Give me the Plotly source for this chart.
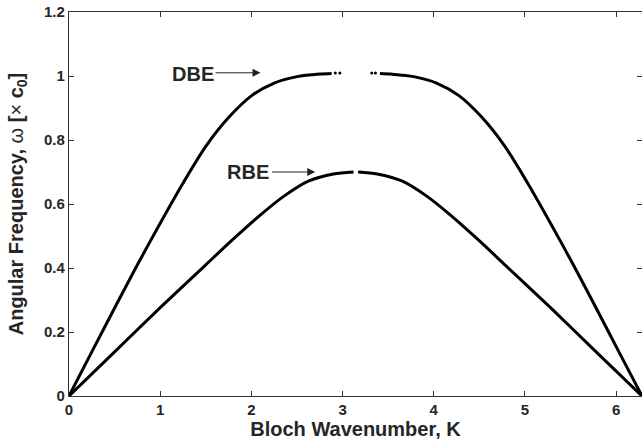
import plotly.graph_objects as go

# Upper band (DBE), left branch, right branch, and sparse dots near the flat top
dbe_left_k = [0.0, 0.25, 0.5, 0.75, 1.0, 1.25, 1.5, 1.75, 2.0, 2.25, 2.5, 2.75, 2.88]
dbe_left_w = [0.0, 0.138, 0.275, 0.41, 0.54, 0.665, 0.78, 0.87, 0.938, 0.978, 0.998, 1.006, 1.008]
dbe_right_k = [3.41, 3.53, 3.78, 4.03, 4.28, 4.53, 4.78, 5.03, 5.28, 5.53, 5.78, 6.03, 6.2832]
dbe_right_w = [1.008, 1.006, 0.998, 0.978, 0.938, 0.87, 0.78, 0.665, 0.54, 0.41, 0.275, 0.138, 0.0]
dbe_dots_k = [2.92, 2.97, 3.32, 3.36]
dbe_dots_w = [1.009, 1.009, 1.009, 1.009]

# Lower band (RBE)
rbe_left_k = [0.0, 0.5, 1.0, 1.5, 1.8, 2.1, 2.35, 2.63, 2.9, 3.12]
rbe_left_w = [0.0, 0.138, 0.276, 0.41, 0.49, 0.566, 0.623, 0.672, 0.694, 0.700]
rbe_right_k = [3.17, 3.38, 3.65, 3.93, 4.18, 4.48, 4.78, 5.28, 5.78, 6.2832]
rbe_right_w = [0.700, 0.694, 0.672, 0.623, 0.566, 0.49, 0.41, 0.276, 0.138, 0.0]

x_ticks = [0, 1, 2, 3, 4, 5, 6]
y_ticks = [0, 0.2, 0.4, 0.6, 0.8, 1.0, 1.2]
y_tick_text = ["0", "0.2", "0.4", "0.6", "0.8", "1", "1.2"]

fig = go.Figure()
line = dict(color="black", width=3, shape="spline", smoothing=0.8)
for kx, wy in [(dbe_left_k, dbe_left_w), (dbe_right_k, dbe_right_w),
               (rbe_left_k, rbe_left_w), (rbe_right_k, rbe_right_w)]:
    fig.add_trace(go.Scatter(x=kx, y=wy, mode="lines", line=line, showlegend=False,
                             hoverinfo="skip"))
fig.add_trace(go.Scatter(x=dbe_dots_k, y=dbe_dots_w, mode="markers",
                         marker=dict(color="black", size=3), showlegend=False))

tickfont = dict(family="Liberation Sans", size=15, color="#262626", weight="bold")
axis_common = dict(
    showline=True, linecolor="#333333", linewidth=1.2, mirror="ticks",
    ticks="inside", ticklen=5, tickcolor="#333333", tickwidth=1,
    showgrid=False, zeroline=False, tickfont=tickfont,
)
fig.update_xaxes(range=[0, 6.2832], tickvals=x_ticks, **axis_common,
                 title=dict(text="<b>Bloch Wavenumber, K</b>",
                            font=dict(family="Liberation Sans", size=20, color="#262626"),
                            standoff=1))
fig.update_yaxes(range=[0, 1.2], tickvals=y_ticks, ticktext=y_tick_text, **axis_common,
                 title=dict(text="<b>Angular Frequency, </b>ω<b> [</b>×<b> c<sub>0</sub>]</b>",
                            font=dict(family="Liberation Sans", size=20, color="#262626"),
                            standoff=15))

annfont = dict(family="Liberation Sans", size=20, color="#262626", weight="bold")
fig.add_annotation(x=1.36, y=1.006, text="DBE", showarrow=False, font=annfont)
fig.add_annotation(x=2.10, y=1.01, ax=1.59, ay=1.01, axref="x", ayref="y",
                   text="", showarrow=True, arrowhead=2, arrowsize=1.6, arrowwidth=1,
                   arrowcolor="#222222")
fig.add_annotation(x=1.96, y=0.70, text="RBE", showarrow=False, font=annfont)
fig.add_annotation(x=2.70, y=0.70, ax=2.21, ay=0.70, axref="x", ayref="y",
                   text="", showarrow=True, arrowhead=2, arrowsize=1.6, arrowwidth=1,
                   arrowcolor="#222222")

fig.update_layout(
    width=642, height=440, autosize=False,
    margin=dict(l=69, r=0, t=12, b=44),
    paper_bgcolor="white", plot_bgcolor="white",
)
fig.write_html("out.html")
